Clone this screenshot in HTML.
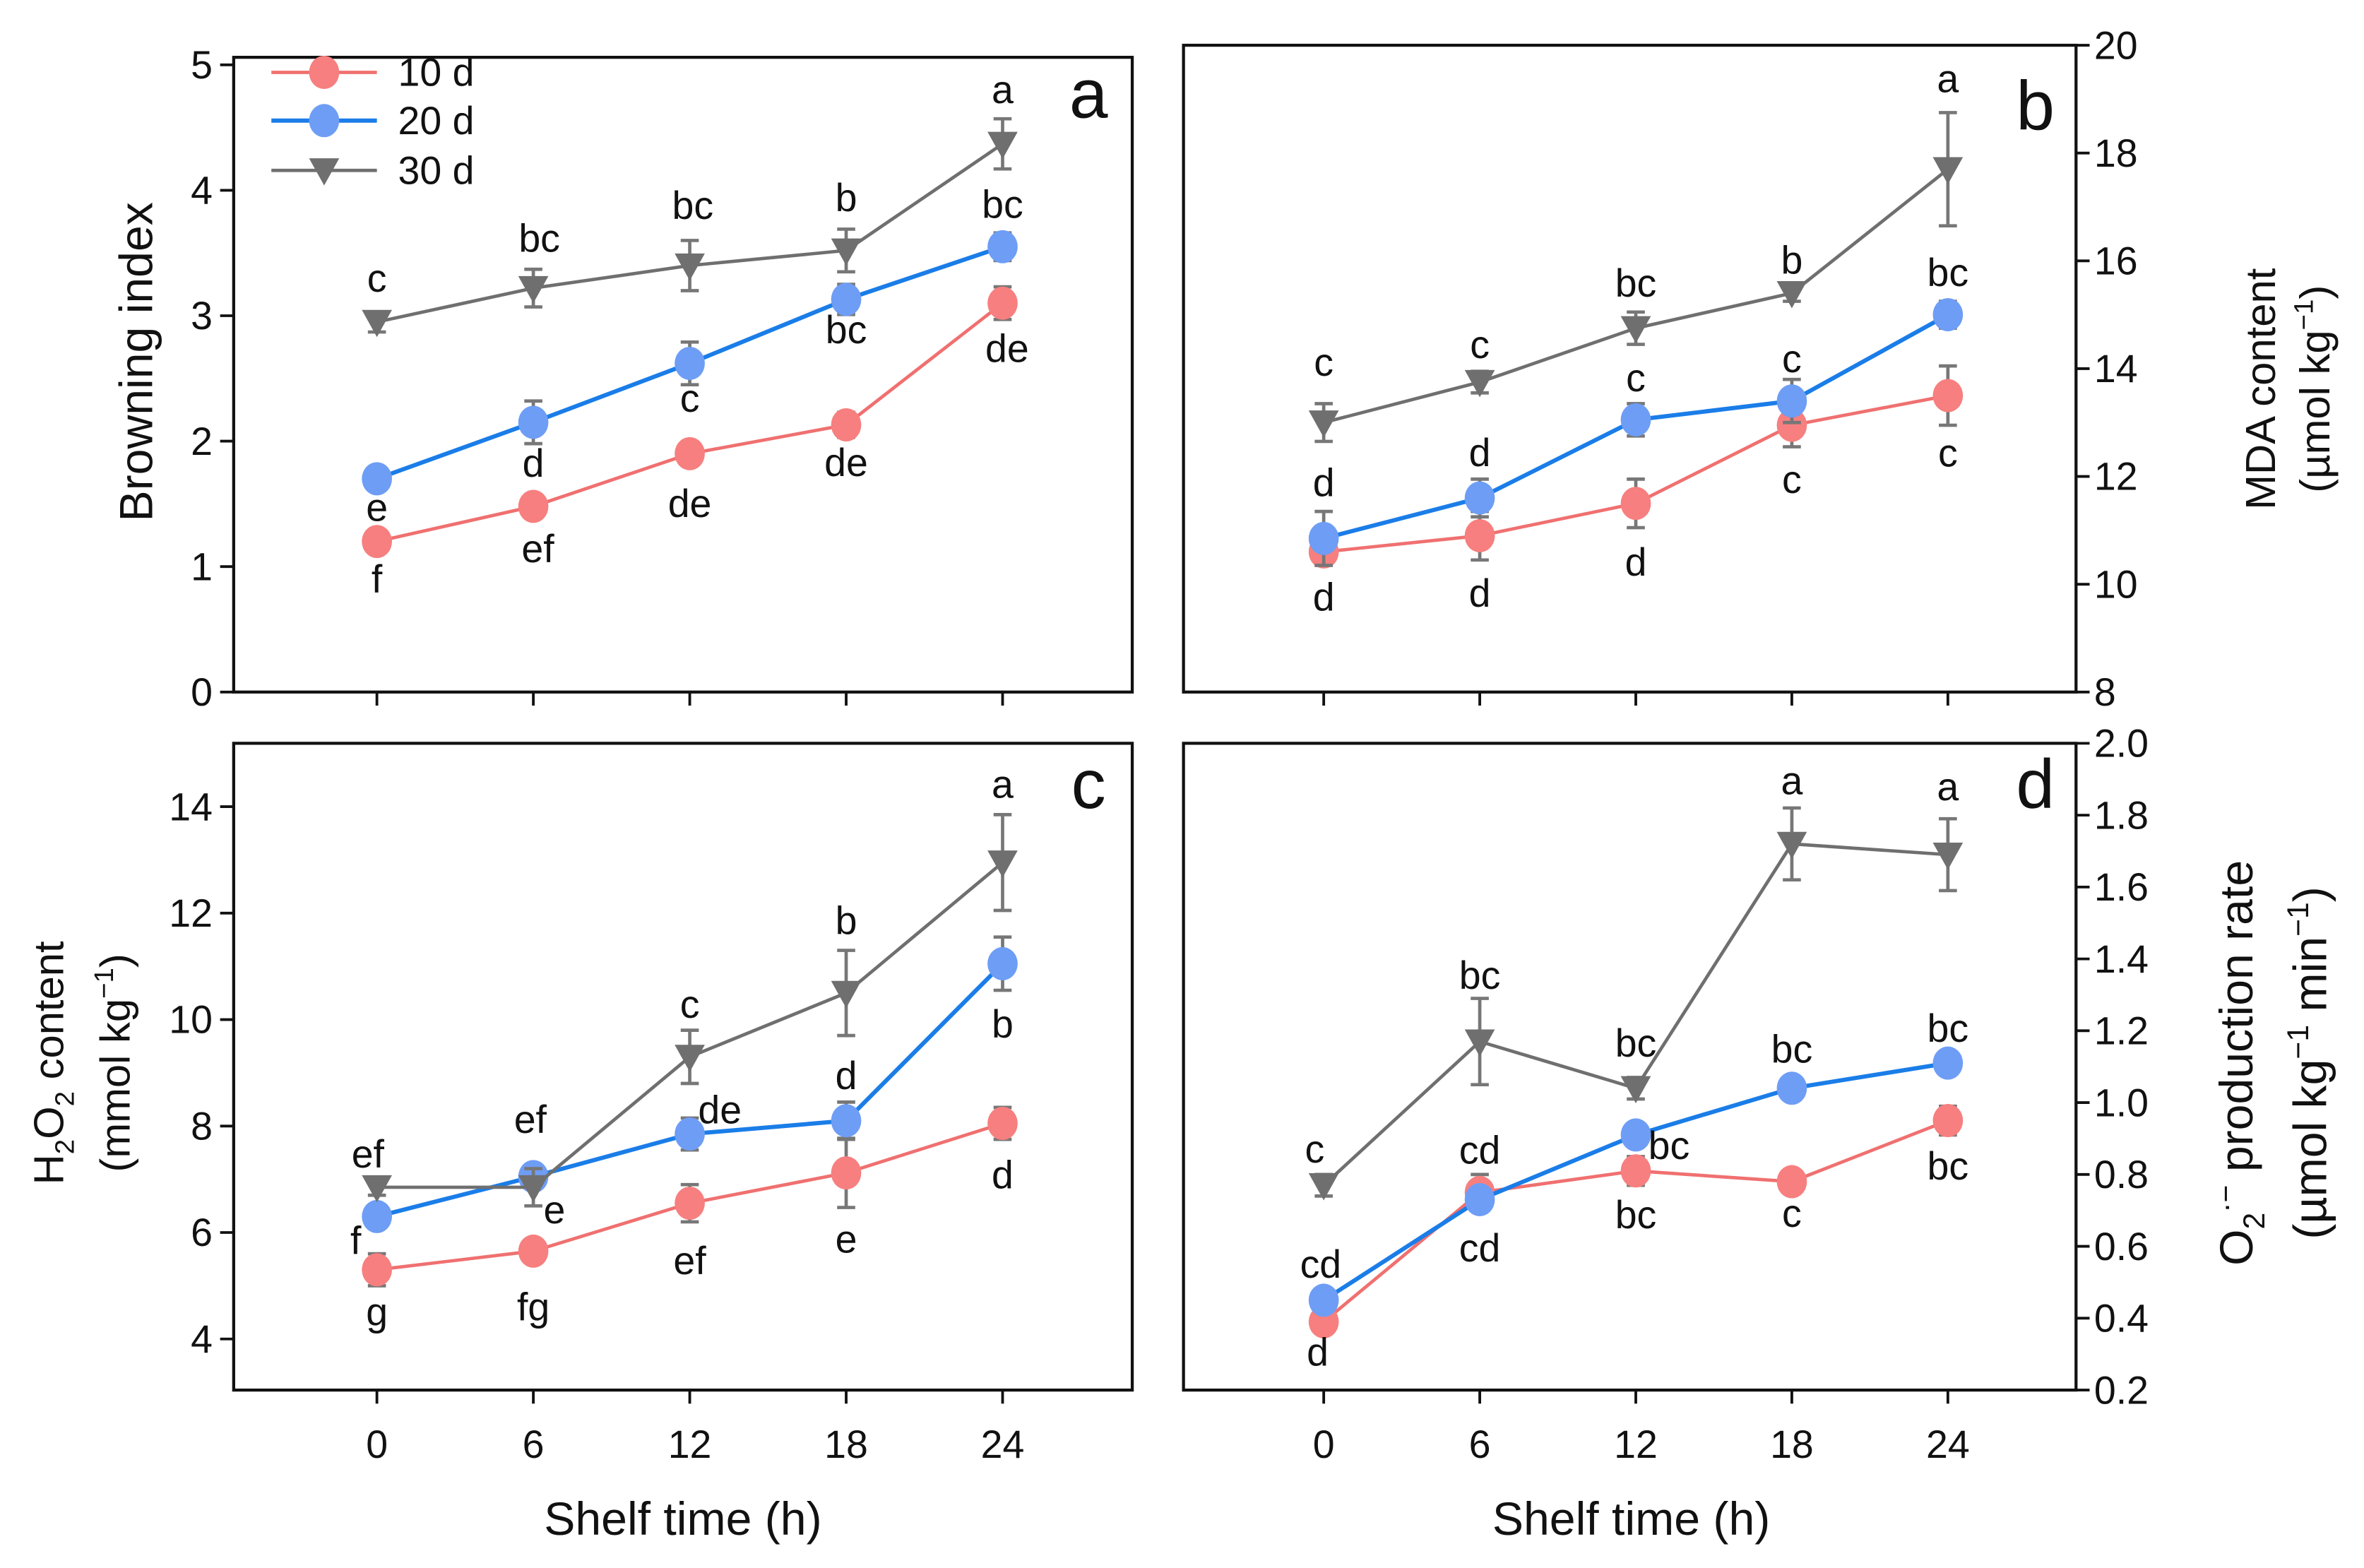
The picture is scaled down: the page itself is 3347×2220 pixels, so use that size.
<!DOCTYPE html>
<html><head><meta charset="utf-8"><style>
html,body{margin:0;padding:0;background:#fff;}
svg{display:block;}
text{font-family:"Liberation Sans",Arial,sans-serif;fill:#111;}
</style></head><body>
<svg id="fig" width="3347" height="2220" viewBox="0 0 1568 1040" xmlns="http://www.w3.org/2000/svg"></svg>
<script>
const xCats=[0,6,12,18,24];
// Panel a: browning index
const a10=[1.2,1.48,1.9,2.13,3.1], a10e=[0.05,0.05,0.05,0.1,0.13];
const a20=[1.7,2.15,2.62,3.13,3.55], a20e=[0.03,0.17,0.17,0.12,0.11];
const a30=[2.95,3.22,3.4,3.52,4.37], a30e=[0.08,0.15,0.2,0.17,0.2];
const aTicks=[0,1,2,3,4,5];
const a10L=['f','ef','de','de','de'], a20L=['e','d','c','bc','bc'], a30L=['c','bc','bc','b','a'];
// Panel b: MDA
const b10=[10.6,10.9,11.5,12.95,13.5], b10e=[0.25,0.45,0.45,0.4,0.55];
const b20=[10.85,11.6,13.05,13.4,15.0], b20e=[0.5,0.35,0.3,0.4,0.25];
const b30=[13.0,13.75,14.75,15.4,17.7], b30e=[0.35,0.2,0.3,0.15,1.05];
const bTicks=[8,10,12,14,16,18,20];
const b10L=['d','d','d','c','c'], b20L=['d','d','c','c','bc'], b30L=['c','c','bc','b','a'];
// Panel c: H2O2
const c10=[5.3,5.65,6.55,7.12,8.05], c10e=[0.3,0.1,0.35,0.65,0.3];
const c20=[6.3,7.05,7.85,8.1,11.05], c20e=[0.2,0.2,0.3,0.35,0.5];
const c30=[6.85,6.85,9.3,10.5,12.95], c30e=[0.15,0.35,0.5,0.8,0.9];
const cTicks=[4,6,8,10,12,14];
const c10L=['g','fg','ef','e','d'], c20L=['f','e','de','d','b'], c30L=['ef','ef','c','b','a'];
// Panel d: O2- production
const d10=[0.39,0.75,0.81,0.78,0.95], d10e=[0.02,0.05,0.04,0.02,0.04];
const d20=[0.45,0.73,0.91,1.04,1.11], d20e=[0.01,0.02,0.02,0.01,0.01];
const d30=[0.77,1.17,1.04,1.72,1.69], d30e=[0.03,0.12,0.03,0.1,0.1];
const dTicks=['0.2','0.4','0.6','0.8','1.0','1.2','1.4','1.6','1.8','2.0'];
const d10L=['d','cd','bc','c','bc'], d20L=['cd','cd','bc','bc','bc'], d30L=['c','bc','bc','a','a'];

const NS='http://www.w3.org/2000/svg';
const svg=document.getElementById('fig');
function el(tag,attrs,parent,txt){const e=document.createElementNS(NS,tag);for(const k in attrs)e.setAttribute(k,attrs[k]);if(txt!==undefined)e.textContent=txt;(parent||svg).appendChild(e);return e;}
const COL={r:{line:'#f07070',mk:'#f77f7f'},b:{line:'#1a7de8',mk:'#6e9df5'},g:{line:'#6f6f6f',mk:'#6f6f6f'}};
const ERR='#777';

function panel(cfg){
  const g=el('g',{},svg);
  
  
  const {L,R,T,B,ymin,ymax,x0,dx}=cfg;
  const xs=i=>x0+dx*(xCats[i]/6);
  const ys=v=>B-(v-ymin)/(ymax-ymin)*(B-T);
  const box=el('rect',{x:L,y:T,width:R-L,height:B-T,fill:'none',stroke:'#111','stroke-width':2},g);
  
  
  xCats.forEach((c,i)=>{
    const t=el('line',{x1:xs(i),x2:xs(i),y1:B,y2:B+9,stroke:'#111','stroke-width':1.8},g);
    
    
    if(cfg.xlabels){
      const tl=el('text',{x:xs(i),y:B+45,'text-anchor':'middle','font-size':26},g,String(c));
      
      
    }
  });
  cfg.ticks.forEach(tv=>{
    const v=parseFloat(tv);const y=ys(v);
    const right=cfg.side==='right';
    const t=el('line',{x1:right?R:L,x2:right?R+9:L-9,y1:y,y2:y,stroke:'#111','stroke-width':1.8},g);
    
    
    const tl=el('text',{x:right?R+12:L-14,y:y+9,'text-anchor':right?'start':'end','font-size':26},g,String(tv));
    
    
  });
  cfg.series.forEach(s=>{
    const sg=el('g',{},g);
    
    
    const pts=s.v.map((v,i)=>xs(i)+','+ys(v)).join(' ');
    const pl=el('polyline',{points:pts,fill:'none',stroke:COL[s.c].line,'stroke-width':s.c==='b'?2.8:2.2},sg);
    
    
    s.v.forEach((v,i)=>{
      const x=xs(i),y=ys(v),e=s.e[i];
      const eb=el('path',{d:`M${x},${ys(v+e)}V${ys(v-e)}M${x-6},${ys(v+e)}H${x+6}M${x-6},${ys(v-e)}H${x+6}`,stroke:ERR,'stroke-width':2.2,fill:'none'},sg);
      
      
      let m;
      if(s.c==='g'){m=el('path',{d:`M${x-10},${y-8}L${x+10},${y-8}L${x},${y+10}Z`,fill:COL.g.mk},sg);}
      else{m=el('ellipse',{cx:x,cy:y,rx:10,ry:11,fill:COL[s.c].mk},sg);}
      
      
      const off=s.off[i];
      const lt=el('text',{x:x+(off[1]||0),y:y+off[0]+9,'text-anchor':'middle','font-size':26},sg,s.L[i]);
      
      
    });
  });
  const pl=el('text',{x:cfg.pl[0],y:cfg.pl[1],'font-size':46,'text-anchor':'middle'},g,cfg.id);
  
  
  return g;
}

panel({id:'a',L:155,R:751,T:38,B:459,ymin:0,ymax:5.06,x0:250,dx:103.75,ticks:aTicks,side:'left',xlabels:false,pl:[722,78],
 series:[
  {name:'10d',c:'r',v:a10,e:a10e,L:a10L,off:[[25],[28,3],[33],[25],[30,3]]},
  {name:'20d',c:'b',v:a20,e:a20e,L:a20L,off:[[19],[27],[23],[20],[-28]]},
  {name:'30d',c:'g',v:a30,e:a30e,L:a30L,off:[[-29],[-33,4],[-40,2],[-35],[-36]]}
 ]});
panel({id:'b',L:785,R:1377,T:30,B:459,ymin:8,ymax:20,x0:878,dx:103.5,ticks:bTicks,side:'right',xlabels:false,pl:[1350,86],
 series:[
  {name:'10d',c:'r',v:b10,e:b10e,L:b10L,off:[[30],[38],[39],[36],[38]]},
  {name:'20d',c:'b',v:b20,e:b20e,L:b20L,off:[[-37],[-30],[-28],[-28],[-28]]},
  {name:'30d',c:'g',v:b30,e:b30e,L:b30L,off:[[-40],[-25],[-30],[-22],[-60]]}
 ]});
panel({id:'c',L:155,R:751,T:493,B:922,ymin:3.04,ymax:15.19,x0:250,dx:103.75,ticks:cTicks,side:'left',xlabels:true,pl:[722,536],
 series:[
  {name:'10d',c:'r',v:c10,e:c10e,L:c10L,off:[[28],[37],[38],[44],[34]]},
  {name:'20d',c:'b',v:c20,e:c20e,L:c20L,off:[[16,-14],[22,14],[-16,20],[-30],[40]]},
  {name:'30d',c:'g',v:c30,e:c30e,L:c30L,off:[[-22,-6],[-45,-2],[-35],[-48],[-52]]}
 ]});
panel({id:'d',L:785,R:1377,T:493,B:922,ymin:0.2,ymax:2.0,x0:878,dx:103.5,ticks:dTicks,side:'right',xlabels:true,pl:[1350,536],
 series:[
  {name:'10d',c:'r',v:d10,e:d10e,L:d10L,off:[[20,-4],[-28],[29],[21],[30]]},
  {name:'20d',c:'b',v:d20,e:d20e,L:d20L,off:[[-24,-2],[32],[7,22],[-26],[-23]]},
  {name:'30d',c:'g',v:d30,e:d30e,L:d30L,off:[[-24,-6],[-44],[-30],[-42],[-45]]}
 ]});

const lg=el('g',{},svg);


[['10 d','r',48],['20 d','b',80],['30 d','g',113]].forEach(([t,c,y])=>{
  const e=el('g',{},lg);
  
  
  el('line',{x1:180,x2:250,y1:y,y2:y,stroke:COL[c].line,'stroke-width':c==='b'?2.8:2.2},e);
  if(c==='g')el('path',{d:`M205,${y-8}L225,${y-8}L215,${y+10}Z`,fill:COL.g.mk},e);
  else el('ellipse',{cx:215,cy:y,rx:10,ry:11,fill:COL[c].mk},e);
  el('text',{x:264,y:y+9,'font-size':26},e,t);
});
</script>
<script>
(function(){
const s=document.getElementById('fig');
s.insertAdjacentHTML('beforeend',`
<text transform="translate(101,240) rotate(-90)" text-anchor="middle" font-size="31">Browning index</text>
<text transform="translate(1509,258) rotate(-90)" text-anchor="middle" font-size="28">MDA content</text>
<text transform="translate(1545,258) rotate(-90)" text-anchor="middle" font-size="28">(µmol kg<tspan dy="-11" font-size="18">−1</tspan><tspan dy="11">)</tspan></text>
<text transform="translate(42,705) rotate(-90)" text-anchor="middle" font-size="28">H<tspan dy="7" font-size="18">2</tspan><tspan dy="-7">O</tspan><tspan dy="7" font-size="18">2</tspan><tspan dy="-7"> content</tspan></text>
<text transform="translate(86,705) rotate(-90)" text-anchor="middle" font-size="28">(mmol kg<tspan dy="-11" font-size="18">−1</tspan><tspan dy="11">)</tspan></text>
<text transform="translate(1494,705) rotate(-90)" text-anchor="middle" font-size="31">O<tspan dy="8" font-size="20">2</tspan><tspan dy="-19" font-size="20">·−</tspan><tspan dy="11"> production rate</tspan></text>
<text transform="translate(1543,705) rotate(-90)" text-anchor="middle" font-size="31">(µmol kg<tspan dy="-12" font-size="20">−1</tspan><tspan dy="12"> min</tspan><tspan dy="-12" font-size="20">−1</tspan><tspan dy="12">)</tspan></text>
<text x="453" y="1018" text-anchor="middle" font-size="31">Shelf time (h)</text>
<text x="1082" y="1018" text-anchor="middle" font-size="31">Shelf time (h)</text>
`);
})();
</script>
</body></html>
